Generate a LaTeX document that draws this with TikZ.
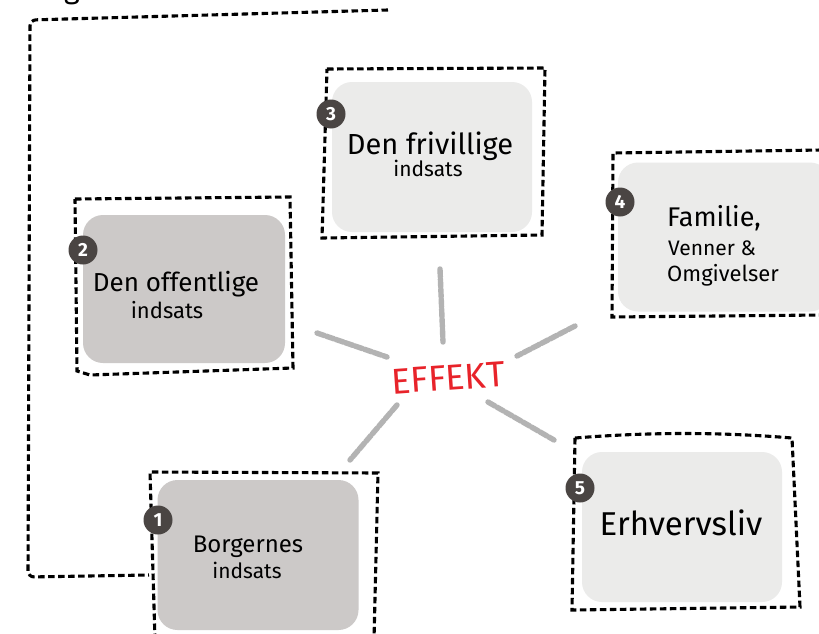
\documentclass[tikz,border=0pt]{standalone}
\usepackage{fontspec}
\setmainfont{Fira Sans}
\usetikzlibrary{positioning}
\definecolor{darkcard}{HTML}{CCC9C8}
\definecolor{lightcard}{HTML}{EBEBEA}
\definecolor{badgegray}{HTML}{4A4543}
\definecolor{effektred}{HTML}{E8232A}
\definecolor{raygray}{HTML}{B3B3B3}
\newcommand{\fs}[1]{\fontsize{#1}{#1}\selectfont}

\begin{document}
\begin{tikzpicture}[x=1pt, y=-1pt,
    frame/.style={line width=3.1pt, dash pattern=on 6.5pt off 3.5pt},
    card/.style={rounded corners=20pt, inner sep=0pt},
    badge/.style={circle, fill=badgegray, text=white, minimum size=29pt,
      inner sep=0pt, font=\fs{19}\bfseries},
    ray/.style={raygray, line width=5.4pt, dash pattern=on 8pt off 2pt,
      line cap=round},
    line/.style={anchor=base, inner sep=0pt, text=black}]
        \useasboundingbox [fill=white] (0,0) rectangle (819,634);
        \node [anchor=base, font=\fs{30}] (heading) at (72,-1) {g};

        \draw [frame, rounded corners=6pt] (388,10) -- (30,20) -- (28,577)
          -- (149,575);

        \node [card, fill=darkcard, minimum width=202pt, minimum height=148pt]
          (card2) at (184,289) {};
        \draw [frame] (75,199) -- (290,197) -- (293,368) -- (90,375)
          -- (77,371) -- cycle;
        \node [badge] (badge2) at (83,250) {2};
        \node [line, font=\fs{26}] (den2) at (176,291) {Den offentlige};
        \node [line, font=\fs{22}] (ind2) at (167,318) {indsats};

        \node [card, fill=lightcard, minimum width=200pt, minimum height=150pt]
          (card3) at (432,157) {};
        \draw [frame] (327,69) -- (545,68) -- (542,235) -- (322,238) -- cycle;
        \node [badge] (badge3) at (331,114) {3};
        \node [line, font=\fs{29}] (den3) at (430,154) {Den frivillige};
        \node [line, font=\fs{21}] (ind3) at (428,176) {indsats};

        \node [card, fill=lightcard, minimum width=212pt, minimum height=149pt]
          (card4) at (724,237) {};
        \draw [frame] (822,150) -- (613,153) -- (612,317) -- (822,315);
        \node [badge] (badge4) at (620,202) {4};
        \node [line, anchor=base west, font=\fs{27}] (fam4) at (667,226)
          {Familie,};
        \node [line, anchor=base west, font=\fs{21}] (ven4) at (668,255)
          {Venner \&};
        \node [line, anchor=base west, font=\fs{22}] (omg4) at (667,281)
          {Omgivelser};

        \node [card, fill=darkcard, minimum width=201pt, minimum height=150pt]
          (card1) at (258,555) {};
        \draw [frame] (155,640) -- (150,472) -- (378,473) -- (374,640);
        \node [badge] (badge1) at (158,520) {1};
        \node [line, font=\fs{24}] (bor1) at (248,552) {Borgernes};
        \node [line, font=\fs{21}] (ind1) at (247,578) {indsats};

        \node [card, fill=lightcard, minimum width=200pt, minimum height=150pt]
          (card5) at (682,527) {};
        \draw [frame] (575,438) .. controls (650,432) and (720,432) .. (792,438)
          -- (800,607) -- (572,610) -- cycle;
        \node [badge] (badge5) at (580,488) {5};
        \node [line, font=\fs{33}] (erh5) at (681,535) {Erhvervsliv};

        \node [text=effektred, font=\fs{36}, rotate=4] (effekt) at (448,378)
          {EFFEKT};

        \coordinate (up1) at (440,269);
        \coordinate (up2) at (443,342);
        \coordinate (ul1) at (317,333);
        \coordinate (ul2) at (387,357);
        \coordinate (ur1) at (575,326);
        \coordinate (ur2) at (517,356);
        \coordinate (dl1) at (397,405);
        \coordinate (dl2) at (350,460);
        \coordinate (dr1) at (488,402);
        \coordinate (dr2) at (554,440);
        \draw [ray] (up1) -- (up2);
        \draw [ray] (ul1) -- (ul2);
        \draw [ray] (ur1) -- (ur2);
        \draw [ray] (dl1) -- (dl2);
        \draw [ray] (dr1) -- (dr2);
\end{tikzpicture}
\end{document}
